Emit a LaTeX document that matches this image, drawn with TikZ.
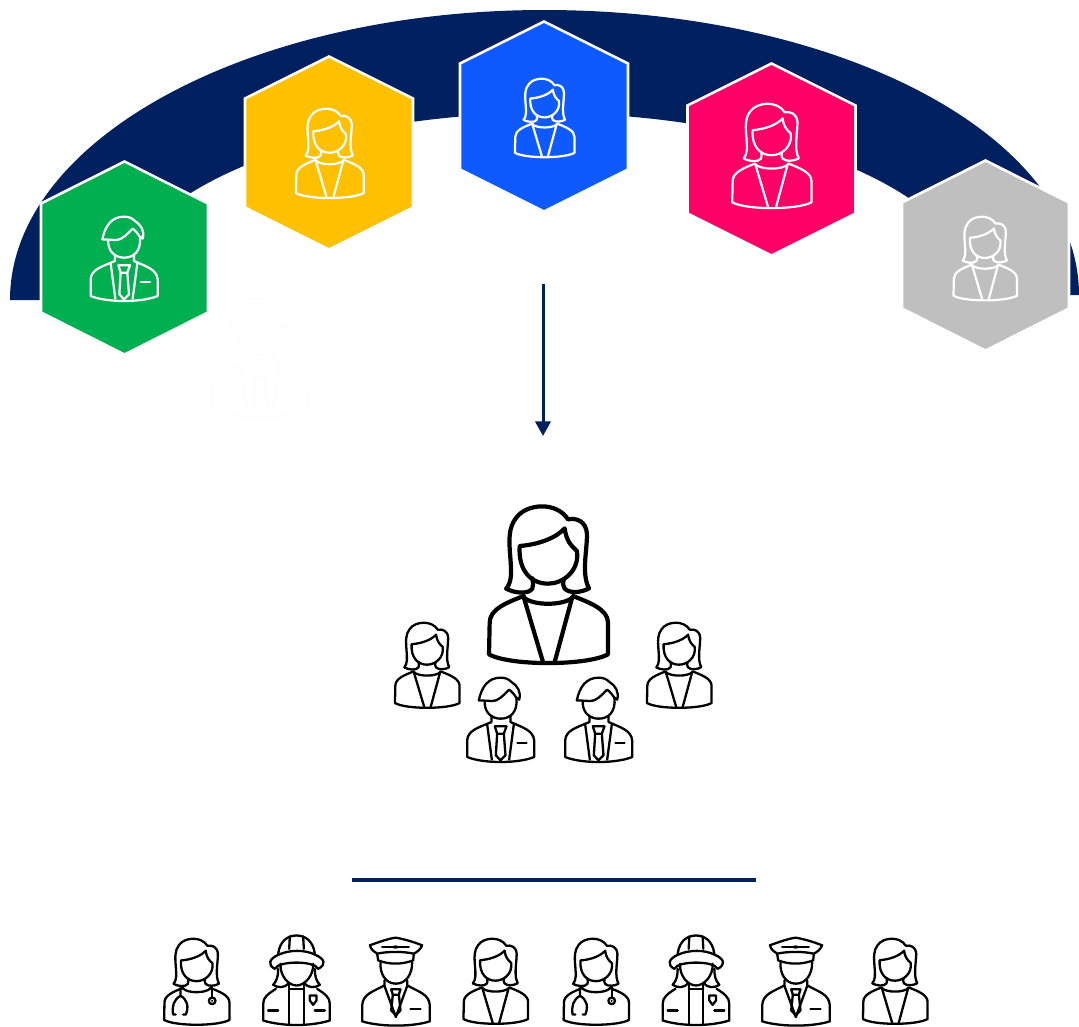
\documentclass[tikz,border=0pt]{standalone}
\usetikzlibrary{arrows.meta}
\definecolor{navyc}{HTML}{002060}
\definecolor{greenc}{HTML}{00B050}
\definecolor{yellowc}{HTML}{FFC000}
\definecolor{bluec}{HTML}{0F5AFF}
\definecolor{pinkc}{HTML}{FF0066}
\definecolor{greyc}{HTML}{BFBFBF}
\tikzset{
  icon/.style={draw=black,line width=2.3pt*0.75,line join=round,line cap=round},
  iconw/.style={draw=white,line width=2.2pt*0.75,line join=round,line cap=round},
  iconbig/.style={draw=black,line width=4.2pt*0.75,line join=round,line cap=round},
  iconghost/.style={draw=black!0.7,line width=1.5pt*0.75,line join=round,line cap=round},
  hexa/.style={draw=white,line width=2.6pt*0.75,line join=miter},
  navyline/.style={draw=navyc,line width=3pt*0.75},
}
% #1 style, #2 cx, #3 top, #4 scale
\newcommand{\womanbase}[4]{%
 \begin{scope}[shift={(#2,#3)},scale=#4,shift={(-505,-45)}]
  \path[#1] (380,293) .. controls (398,270) and (395,240) .. (392,200)
     .. controls (388,150) and (385,110) .. (410,80)
     .. controls (440,38) and (530,30) .. (565,85)
     .. controls (590,80) and (620,90) .. (622,130)
     .. controls (622,180) and (605,250) .. (628,292)
     .. controls (605,305) and (570,308) .. (555,293)
     .. controls (548,285) and (550,275) .. (552,265);
  \path[#1] (380,293) .. controls (400,305) and (445,312) .. (458,293)
     .. controls (462,285) and (460,275) .. (458,262);
  \path[#1] (420,165) .. controls (480,160) and (530,140) .. (555,112)
     .. controls (560,150) and (575,165) .. (592,180)
     .. controls (600,240) and (550,278) .. (505,278)
     .. controls (455,278) and (415,240) .. (420,165) -- cycle;
  \path[#1] (432,315) .. controls (380,335) and (330,355) .. (330,395) -- (328,490)
     .. controls (390,525) and (620,525) .. (685,490) -- (685,395)
     .. controls (685,355) and (630,335) .. (580,315);
  \path[#1] (432,318) .. controls (455,345) and (555,345) .. (580,318);
 \end{scope}}
\newcommand{\woman}[4]{%
 \womanbase{#1}{#2}{#3}{#4}
 \begin{scope}[shift={(#2,#3)},scale=#4,shift={(-505,-45)}]
  \path[#1] (432,318) -- (490,513);
  \path[#1] (578,318) -- (525,513);
 \end{scope}}
\newcommand{\doctor}[3]{%
 \womanbase{#1}{#2}{#3}{0.183}
 \begin{scope}[shift={(#2,#3)},shift={(-46.67,-13.33)},scale=1/3]
  \path[#1] (92,188) -- (92,212) .. controls (72,222) and (65,245) .. (70,268) -- (78,268);
  \path[#1] (92,212) .. controls (112,222) and (118,245) .. (108,268) -- (100,268);
  \path[#1] (187,185) -- (187,216);
  \path[#1] (187,227) circle (10);
  \fill (187,227) circle (3.5);
 \end{scope}}
\newcommand{\man}[4]{%
 \begin{scope}[shift={(#2,#3)},scale=#4,shift={(-362,-560)}]
  \path[#1] (297,630) .. controls (305,590) and (325,562) .. (362,562)
     .. controls (375,562) and (385,565) .. (395,575)
     .. controls (412,585) and (425,605) .. (418,628) -- (410,622);
  \path[#1] (297,630) -- (335,632) .. controls (360,632) and (372,612) .. (388,598)
     .. controls (398,605) and (405,615) .. (412,626);
  \path[#1] (315,632) .. controls (312,665) and (335,685) .. (362,685)
     .. controls (392,685) and (414,665) .. (410,622);
  \path[#1] (335,678) -- (335,695) .. controls (295,712) and (264,720) .. (262,750) -- (262,800)
     .. controls (310,820) and (415,820) .. (463,800) -- (463,750)
     .. controls (460,720) and (430,712) .. (392,695) -- (392,678);
  \path[#1] (322,702) -- (336,808);
  \path[#1] (402,702) -- (388,808);
  \path[#1] (345,708) -- (380,708) -- (372,730) -- (352,730) -- cycle;
  \path[#1] (352,730) -- (348,795) -- (362,810) -- (377,795) -- (372,730);
  \path[#1] (413,757) -- (440,757);
 \end{scope}}
\newcommand{\firefighter}[3]{%
 \begin{scope}[shift={(#2,#3)},scale=1/3,shift={(-440,-30)}]
  \path[#1] (385,85) .. controls (390,45) and (415,30) .. (440,30)
     .. controls (465,30) and (490,45) .. (495,85);
  \path[#1] (420,33) -- (418,70);
  \path[#1] (460,33) -- (462,70);
  \path[#1] (375,130) .. controls (352,118) and (358,100) .. (385,88)
     .. controls (420,72) and (465,72) .. (497,88)
     .. controls (525,100) and (530,118) .. (505,130)
     .. controls (495,105) and (385,105) .. (375,130) -- cycle;
  \path[#1] (392,115) .. controls (390,150) and (415,180) .. (440,180)
     .. controls (465,180) and (492,150) .. (490,115);
  \path[#1] (385,130) .. controls (385,150) and (382,165) .. (370,178) .. controls (385,188) and (405,188) .. (418,172);
  \path[#1] (495,130) .. controls (495,150) and (498,165) .. (510,178) .. controls (495,188) and (475,188) .. (462,172);
  \path[#1] (378,190) .. controls (355,205) and (340,215) .. (340,235) -- (340,285)
     .. controls (400,303) and (480,303) .. (540,285) -- (540,235)
     .. controls (540,215) and (525,205) .. (502,190);
  \path[#1] (418,172) -- (418,296);
  \path[#1] (462,172) -- (462,296);
  \path[#1] (418,190) -- (462,190);
  \path[#1] (355,255) -- (385,255);
  \path[#1] (495,255) -- (525,255);
  \path[#1] (480,210) -- (500,210) -- (500,225) -- (490,238) -- (480,225) -- cycle;
 \end{scope}}
\newcommand{\pilot}[3]{%
 \begin{scope}[shift={(#2,#3)},scale=1/3,shift={(-735,-35)}]
  \path[#1] (658,60) .. controls (690,48) and (715,40) .. (735,37)
     .. controls (755,40) and (785,48) .. (815,60)
     .. controls (810,72) and (800,80) .. (790,85)
     .. controls (760,78) and (710,78) .. (680,85)
     .. controls (670,80) and (662,72) .. (658,60) -- cycle;
  \path[#1] (680,85) -- (683,105) .. controls (715,118) and (755,118) .. (788,105) -- (790,85);
  \path[#1] (695,65) -- (775,65);
  \fill (735,65) ellipse (9 and 5);
  \path[#1] (690,112) .. controls (688,145) and (705,175) .. (736,175)
     .. controls (768,175) and (785,145) .. (785,112);
  \path[#1] (702,165) -- (702,180) .. controls (670,198) and (637,205) .. (635,240) -- (635,288)
     .. controls (690,305) and (785,305) .. (838,288) -- (838,240)
     .. controls (836,205) and (800,198) .. (770,180) -- (770,165);
  \path[#1] (702,182) -- (736,275) -- (770,182);
  \path[#1] (722,192) -- (750,192) -- (745,208) -- (727,208) -- cycle;
  \path[#1] (727,208) -- (722,255) -- (736,270) -- (750,255) -- (745,208);
  \path[#1] (780,252) -- (810,252);
 \end{scope}}
% #1 fill, #2 cx, #3 top, #4 bottom, #5 half width
\newcommand{\hexagon}[5]{%
 \path[hexa,fill=#1] (#2,#3) -- ({#2+#5},{#3+42}) -- ({#2+#5},{#4-42}) -- (#2,#4)
   -- ({#2-#5},{#4-42}) -- ({#2-#5},{#3+42}) -- cycle;}
\begin{document}
\begin{tikzpicture}[x=0.75pt,y=-0.75pt]
\useasboundingbox (0,0) rectangle (1079,1026);
\fill[white] (0,0) rectangle (1079,1026);
% arch
\fill[navyc] (10,300) .. controls (10,140) and (249,10) .. (544,10)
   .. controls (839,10) and (1079,135) .. (1079,295)
   -- (975,295) .. controls (975,194.5) and (782,113) .. (544,113)
   .. controls (306,113) and (113,197) .. (113,300) -- cycle;
% ghost
\man{iconghost}{260}{297}{0.47}
% hexagons
\hexagon{greenc}{124.5}{161.5}{354.5}{83.5}
\hexagon{yellowc}{329}{56.5}{249.5}{84}
\hexagon{bluec}{544}{21.5}{211.5}{84}
\hexagon{pinkc}{771.5}{63.5}{255.5}{84}
\hexagon{greyc}{985.5}{160.5}{350.5}{83.5}
\man{iconw}{124}{216}{0.3333}
\woman{iconw}{329.5}{108.5}{0.19}
\woman{iconw}{544.5}{78.5}{0.167}
\woman{iconw}{771.5}{103.5}{0.222}
\woman{iconw}{985}{216.5}{0.178}
% arrow
\coordinate (arrowstart) at (543,284);
\coordinate (arrowend) at (543,436);
\draw[navyline,-{Triangle[length=11pt,width=11.5pt]}] (arrowstart) -- (arrowend);
% leader group
\woman{iconbig}{548}{506}{0.3333}
\woman{icon}{427}{622.5}{0.181}
\woman{icon}{679}{622.5}{0.181}
\man{icon}{500.5}{677}{0.3333}
\man{icon}{598.5}{677}{0.3333}
% rule
\coordinate (rulea) at (352,880);
\coordinate (ruleb) at (756,880);
\draw[navyc,line width=2.6pt] (rulea) -- (ruleb);
% bottom row
\doctor{icon}{196.5}{938.5}
\firefighter{icon}{296.5}{935.5}
\pilot{icon}{395.5}{937}
\woman{icon}{495.5}{938.5}{0.181}
\doctor{icon}{596}{938.5}
\firefighter{icon}{696}{935.5}
\pilot{icon}{795.5}{937}
\woman{icon}{895}{938.5}{0.181}
\end{tikzpicture}
\end{document}
